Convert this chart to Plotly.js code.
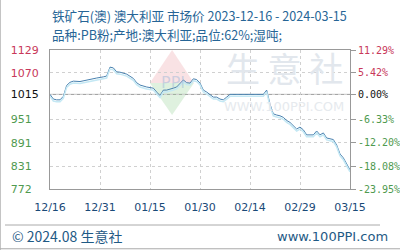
<!DOCTYPE html>
<html><head><meta charset="utf-8">
<script src="https://cdn.plot.ly/plotly-3.0.1.min.js"></script>
<style>html,body{margin:0;padding:0;background:#fff;}#c{width:400px;height:250px;}</style>
</head><body><div id="c"></div>
<script>
const dates = ["2023-12-16","2023-12-17","2023-12-18","2023-12-19","2023-12-20","2023-12-21","2023-12-22","2023-12-23","2023-12-25","2023-12-26","2023-12-27","2023-12-29","2023-12-30","2024-01-01","2024-01-02","2024-01-03","2024-01-04","2024-01-05","2024-01-06","2024-01-08","2024-01-09","2024-01-10","2024-01-11","2024-01-12","2024-01-14","2024-01-16","2024-01-17","2024-01-18","2024-01-19","2024-01-20","2024-01-22","2024-01-23","2024-01-25","2024-01-26","2024-01-27","2024-01-28","2024-01-29","2024-01-30","2024-01-31","2024-02-01","2024-02-03","2024-02-04","2024-02-05","2024-02-06","2024-02-07","2024-02-08","2024-02-18","2024-02-19","2024-02-20","2024-02-21","2024-02-22","2024-02-23","2024-02-24","2024-02-25","2024-02-26","2024-02-27","2024-02-28","2024-02-29","2024-03-01","2024-03-02","2024-03-04","2024-03-05","2024-03-06","2024-03-07","2024-03-08","2024-03-09","2024-03-10","2024-03-11","2024-03-12","2024-03-13","2024-03-14","2024-03-15"];
const prices = [1015,1003,1001,1001,1010,1038,1046,1049,1048,1050,1052,1056,1057,1060,1062,1085,1083,1073,1072,1067,1062,1056,1045,1039,1034,1031,1021,1012,1026,1026,1031,1034,1052,1045,1044,1055,1053,1044,1026,1021,1008,1008,1003,1001,1008,1015,1015,1026,990,965,962,960,956,948,943,935,926,931,924,911,911,921,911,916,903,901,899,885,862,852,835,821];
const yTicks = [1129,1070,1015,951,891,831,772];
const yTickLabels = ["1129","1070","1015","951","891","831","772"];
const pctLabels = ["11.29%","5.42%","0.00%","-6.33%","-12.20%","-18.08%","-23.95%"];
const xTicks = ["2023-12-16","2023-12-31","2024-01-15","2024-01-30","2024-02-14","2024-02-29","2024-03-15"];
const xTickLabels = ["12/16","12/31","01/15","01/30","02/14","02/29","03/15"];

const RED = "#c8385a", GREEN = "#4f9a4f", BLK = "#111";
function colorFor(i){ return i < 2 ? RED : (i === 2 ? BLK : GREEN); }
const leftText = yTickLabels.map((t,i)=>'<span style="color:'+colorFor(i)+'">'+(t.length<4?t+'\u2007':t)+'</span>');
const rightText = pctLabels.map((t,i)=>'<span style="color:'+colorFor(i)+'">'+t+'</span>');

const yr = [772,1129];
const traces = [
  {x:dates, y:prices, type:'scatter', mode:'lines', yaxis:'y3', line:{color:'#c4e8f4', width:1.5}, hoverinfo:'skip'},
  {x:dates, y:prices, type:'scatter', mode:'lines', line:{color:'#4a82b0', width:1}},
  {x:dates, y:prices, type:'scatter', mode:'lines', yaxis:'y2', line:{color:'rgba(0,0,0,0)', width:0}, hoverinfo:'skip'}
];
const layout = {
  width:400, height:250, margin:{l:50, r:50, t:50, b:61},
  paper_bgcolor:'#fff', plot_bgcolor:'rgba(0,0,0,0)', showlegend:false,
  font:{family:'DejaVu Sans', size:10, color:'#1a4a78'},
  xaxis:{type:'date', range:['2023-12-16','2024-03-15'], tickvals:xTicks, ticktext:xTickLabels,
    showgrid:true, gridcolor:'#d0d0d0', griddash:'dot', gridwidth:1,
    showline:true, linecolor:'#999', linewidth:1, mirror:true, ticks:'', ticklabelstandoff:8,
    tickfont:{family:'DejaVu Sans', size:11, color:'#1a4a78'}, zeroline:false, fixedrange:true},
  yaxis:{range:yr, tickvals:yTicks, ticktext:leftText, showgrid:true, gridcolor:'#d0d0d0', griddash:'dot',
    showline:true, linecolor:'#999', mirror:true, ticks:'', ticklabelstandoff:8, zeroline:false,
    tickfont:{family:'DejaVu Sans', size:11}},
  yaxis2:{range:yr, overlaying:'y', side:'right', tickvals:yTicks, ticktext:rightText, showgrid:false,
    ticks:'outside', ticklen:5, tickcolor:'#999', showline:false, zeroline:false,
    tickfont:{family:'DejaVu Sans Mono', size:10}},
  yaxis3:{range:[yr[0]+5, yr[1]+5], overlaying:'y', visible:false},
  shapes:[
    {type:'line', xref:'paper', yref:'y', x0:0, x1:1, y0:1015, y1:1015, line:{color:'#999', width:1}, layer:'below'},
    {type:'path', xref:'paper', yref:'paper', path:'M 0.407 1 L 0.48 0.763 L 0.333 0.763 Z', fillcolor:'rgba(235,160,165,0.30)', line:{width:0}, layer:'below'},
    {type:'path', xref:'paper', yref:'paper', path:'M 0.407 0.533 L 0.48 0.763 L 0.333 0.763 Z', fillcolor:'rgba(150,210,150,0.30)', line:{width:0}, layer:'below'},
    {type:'line', xref:'paper', yref:'paper', x0:-0.15, x1:1.1, y0:-0.259, y1:-0.259, line:{color:'#aaa', width:1}},
    {type:'line', xref:'paper', yref:'paper', x0:-0.166, x1:-0.166, y0:-0.44, y1:1.45, line:{color:'#aaa', width:1}},
    {type:'line', xref:'paper', yref:'paper', x0:-0.166, x1:1.2, y0:-0.43, y1:-0.43, line:{color:'#aaa', width:1}}
  ],
  annotations:[
    {text:'铁矿石(澳) 澳大利亚 市场价 2023-12-16 - 2024-03-15', xref:'paper', yref:'paper', x:0, y:(189-15)/139, xanchor:'left', yanchor:'middle', showarrow:false, font:{family:'Noto Sans CJK SC', size:12.6, color:'#266596'}},
    {text:'品种:PB粉;产地:澳大利亚;品位:62%;湿吨;', xref:'paper', yref:'paper', x:0, y:(189-34)/139, xanchor:'left', yanchor:'middle', showarrow:false, font:{family:'Noto Sans CJK SC', size:12.6, color:'#266596'}},
    {text:'生 意 社', xref:'paper', yref:'paper', x:0.78, y:(189-67)/139, xanchor:'center', yanchor:'middle', showarrow:false, font:{family:'Noto Sans CJK SC', size:34, color:'#e2e7ed'}},
    {text:'WWW.100PPI.COM', xref:'paper', yref:'paper', x:0.78, y:(189-106)/139, xanchor:'center', yanchor:'middle', showarrow:false, font:{family:'DejaVu Sans', size:13, color:'#e6eaee'}},
    {text:'PPI', xref:'paper', yref:'paper', x:0.41, y:0.763, xanchor:'center', yanchor:'middle', showarrow:false, font:{family:'DejaVu Sans', size:16, color:'rgba(150,180,215,0.45)'}},
    {text:'© 2024.08 生意社', xref:'paper', yref:'paper', x:-0.133, y:(189-236)/139, xanchor:'left', yanchor:'middle', showarrow:false, font:{family:'Noto Sans CJK SC', size:14, color:'#1f5a85'}},
    {text:'www.100PPI.com', xref:'paper', yref:'paper', x:1.133, y:(189-236)/139, xanchor:'right', yanchor:'middle', showarrow:false, font:{family:'DejaVu Sans', size:13, color:'#1f5a85'}}
  ]
};
Plotly.newPlot('c', traces, layout, {staticPlot:true, displayModeBar:false});
</script></body></html>
